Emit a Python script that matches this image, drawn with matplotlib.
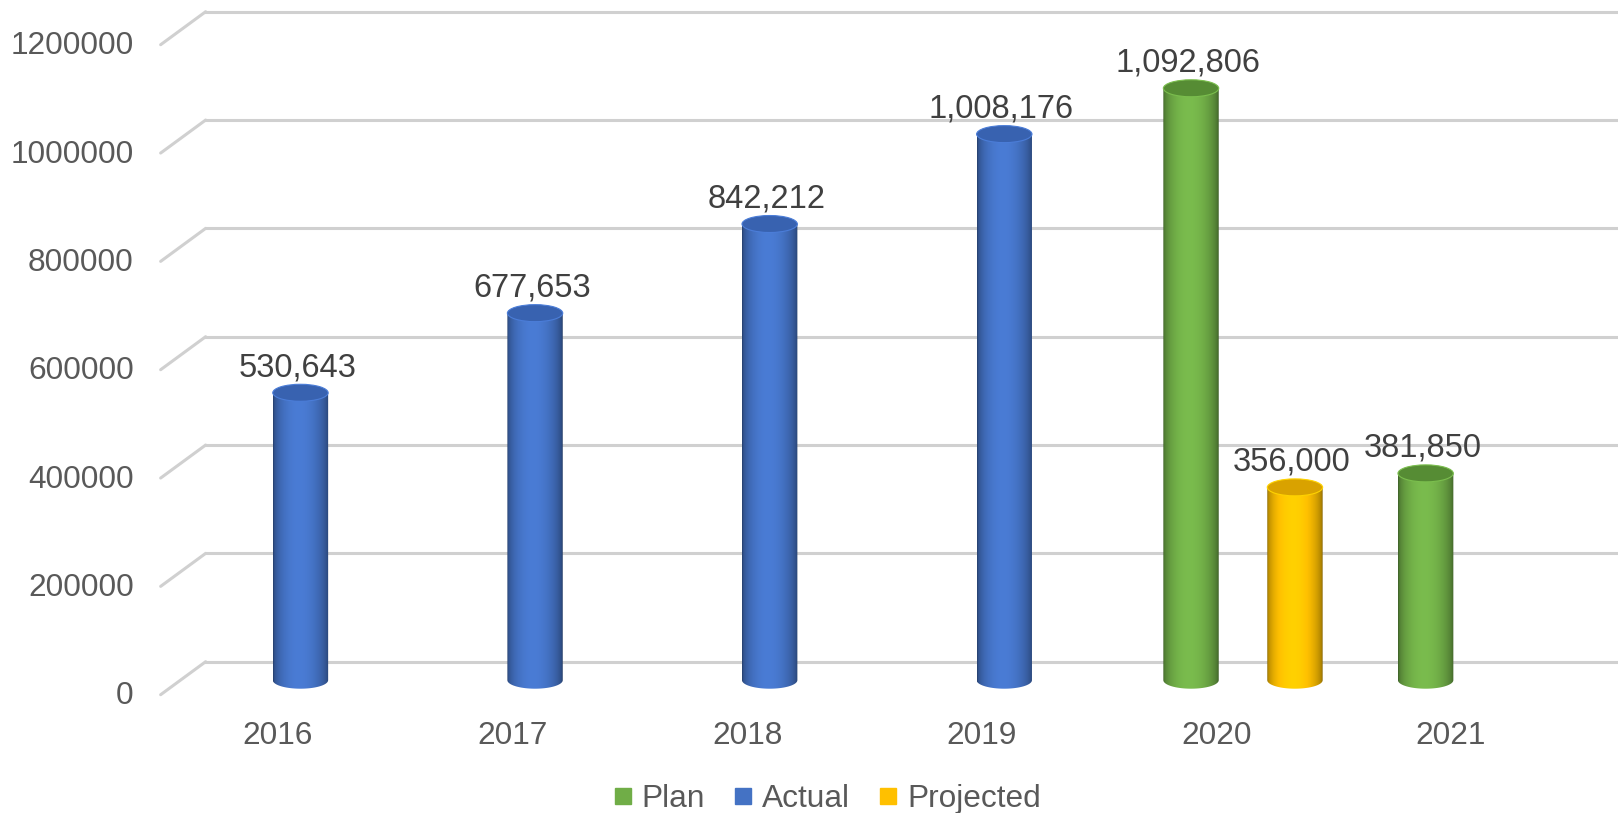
import numpy as np
import matplotlib
matplotlib.use("Agg")
import matplotlib.pyplot as plt
from matplotlib.transforms import ScaledTranslation
from matplotlib.patches import Ellipse, PathPatch, ConnectionPatch
from matplotlib.path import Path
from matplotlib.lines import Line2D
from matplotlib.colors import to_rgb

plt.rcParams['font.family'] = ['Liberation Sans', 'DejaVu Sans']

# data
years = ['2016', '2017', '2018', '2019', '2020', '2021']
actual = [530643, 677653, 842212, 1008176, None, None]
plan = [None, None, None, None, 1092806, 381850]
projected = [None, None, None, None, 356000, None]
y_ticks = [0, 200000, 400000, 600000, 800000, 1000000, 1200000]

# series: name, values, colour, top colour, slot offset within category
series = [
    ('Plan', plan, '#70AD47', '#568c34', -0.204),
    ('Actual', actual, '#4472C4', '#3862b0', 0.0),
    ('Projected', projected, '#FFC000', '#d9a200', 0.239),
]

W, H, DPI = 16.18, 8.13, 100
fig = plt.figure(figsize=(W, H), dpi=DPI)
ax_rect = [0.1271, 0.1861, 0.8729, 0.7995]
ax = fig.add_axes(ax_rect)
ax.axis('off')

TXT = '#595959'
GRID = '#d0d0d0'
FS = 22.8
FS_LBL = 23.5

ax_h_px = ax_rect[3] * H * DPI
bar_w = 0.236
ell_h = 17 * 1200000 / ax_h_px

dpi_t = fig.dpi_scale_trans
# mid-depth plane where the cylinders stand
mid = ax.transData + ScaledTranslation(-0.225, -0.185, dpi_t)
ytrans = ax.get_yaxis_transform()
front = ytrans + ScaledTranslation(-0.45, -0.33, dpi_t)

# back wall gridlines + perspective side lines
for v in y_ticks:
    ax.axhline(v, color=GRID, lw=2.2, zorder=1, clip_on=False)
    cp = ConnectionPatch(xyA=(0, v), coordsA=ytrans, xyB=(0, v), coordsB=front,
                         color=GRID, lw=2.2, zorder=1)
    ax.add_artist(cp)
    ax.text(0, v, str(v), transform=ytrans + ScaledTranslation(-0.72, -0.345, dpi_t),
            ha='right', va='center', fontsize=FS, color=TXT)

for i, yr in enumerate(years):
    ax.text(i, 0, yr, transform=ax.transData + ScaledTranslation(-0.45, -0.74, dpi_t),
            ha='center', va='center', fontsize=FS, color=TXT)

# cylinder shading across the width
t = np.linspace(0, 1, 60)
shade = (0.58 + 0.55 * np.sin(np.pi * t) ** 0.5) * (1 - 0.08 * t)


def draw_cylinder(cx, v, color, top_color):
    x0, x1 = cx - bar_w / 2, cx + bar_w / 2
    ang = np.linspace(np.pi, 2 * np.pi, 40)
    verts = [(x0, v), (x0, 0)]
    verts += list(zip(cx + bar_w / 2 * np.cos(ang), ell_h / 2 * np.sin(ang)))
    verts += [(x1, v), (x0, v)]
    codes = [Path.MOVETO] + [Path.LINETO] * (len(verts) - 2) + [Path.CLOSEPOLY]
    body = PathPatch(Path(verts, codes), transform=mid, facecolor='none',
                     edgecolor='none', clip_on=False)
    ax.add_patch(body)
    base = np.array(to_rgb(color))
    grad = np.clip(base[None, :] * shade[:, None], 0, 1)[None, :, :]
    im = ax.imshow(grad, extent=(x0, x1, -ell_h / 2, v), transform=mid,
                   aspect='auto', interpolation='bilinear', zorder=3)
    im.set_clip_box(fig.bbox)
    im.set_clip_path(body)
    top = Ellipse((cx, v), bar_w, ell_h, transform=mid, facecolor=top_color,
                  edgecolor=np.clip(base * 1.1, 0, 1), lw=0.8, zorder=4)
    ax.add_patch(top)
    ax.text(cx, v, f"{v:,}", transform=mid + ScaledTranslation(-0.03, 0.25, dpi_t),
            ha='center', va='center', fontsize=FS_LBL, color='#404040', zorder=5)


for name, vals, col, topc, off in series:
    for i, v in enumerate(vals):
        if v is None:
            continue
        draw_cylinder(i + off, v, col, topc)

ax.set_xlim(-0.5, 5.52)
ax.set_ylim(0, 1200000)

handles = [Line2D([], [], marker='s', linestyle='', color=c, markersize=11.5)
           for _, _, c, _, _ in series]
fig.legend(handles, [s[0] for s in series], loc='center',
           bbox_to_anchor=(827 / 1618, 1 - 799 / 813), ncol=3, frameon=False,
           fontsize=FS, handlelength=0.6, handletextpad=0.3, columnspacing=0.9,
           labelcolor=TXT)

fig.savefig('out.png', dpi=DPI)
